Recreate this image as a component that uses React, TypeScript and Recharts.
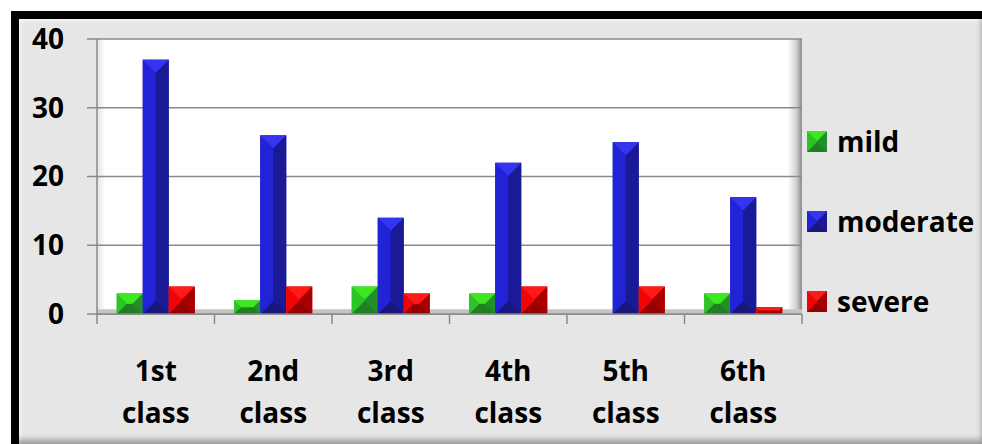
import React from 'react';
import { BarChart, Bar, XAxis, YAxis, CartesianGrid, Legend, ReferenceArea } from 'recharts';

const categories = ['1st class', '2nd class', '3rd class', '4th class', '5th class', '6th class'];
const mild = [3, 2, 4, 3, 0, 3];
const moderate = [37, 26, 14, 22, 25, 17];
const severe = [4, 4, 3, 4, 4, 1];
const yTicks = [0, 10, 20, 30, 40];

const seriesNames = ['mild', 'moderate', 'severe'];

const palette: Record<string, { top: string; left: string; right: string; bottom: string; mid: string }> = {
  mild: { top: '#3de81e', left: '#2cc426', right: '#22902a', bottom: '#1f7f22', mid: '#27a827' },
  moderate: { top: '#3535f0', left: '#2222d6', right: '#1a1a96', bottom: '#17177e', mid: '#2020c0' },
  severe: { top: '#ff1a1a', left: '#ee0505', right: '#a80000', bottom: '#960000', mid: '#d00000' },
};

const data = categories.map((c, i) => ({
  name: c,
  mild: mild[i],
  moderate: moderate[i],
  severe: severe[i],
}));

const FONT = "'Open Sans', sans-serif";

function bevel(x: number, y: number, w: number, h: number, key: string) {
  const c = palette[key];
  const d = Math.min(13, w / 2, h / 2);
  const p = (pts: number[][]) => pts.map((q) => q.join(',')).join(' ');
  return (
    <g>
      <rect x={x} y={y} width={w} height={h} fill={c.mid} />
      <polygon points={p([[x, y], [x + d, y + d], [x + d, y + h - d], [x, y + h]])} fill={c.left} />
      <polygon points={p([[x + w, y], [x + w, y + h], [x + w - d, y + h - d], [x + w - d, y + d]])} fill={c.right} />
      <polygon points={p([[x, y + h], [x + w, y + h], [x + w - d, y + h - d], [x + d, y + h - d]])} fill={c.bottom} />
      <polygon points={p([[x, y], [x + w, y], [x + w - d, y + d], [x + d, y + d]])} fill={c.top} />
    </g>
  );
}

const makeShape = (key: string) => (props: any) => {
  const { x, y, width, height } = props;
  if (!height || height <= 0) return <g />;
  return bevel(x, y, width, height, key);
};

const XTick = (props: any) => {
  const { x, y, payload, index } = props;
  const off = payload && typeof payload.offset === 'number' ? payload.offset : 58.75;
  const parts = String(payload.value).split(' ');
  return (
    <g>
      <line x1={x - off} x2={x - off} y1={y} y2={y + 10} stroke="#888" strokeWidth={1.5} />
      {index === categories.length - 1 && (
        <line x1={x + off} x2={x + off} y1={y} y2={y + 10} stroke="#888" strokeWidth={1.5} />
      )}
      <text x={x} y={y + 67} textAnchor="middle" fontFamily={FONT} fontWeight={700} fontSize={28} fill="#000">
        {parts[0]}
      </text>
      <text x={x} y={y + 109} textAnchor="middle" fontFamily={FONT} fontWeight={700} fontSize={28} fill="#000">
        {parts[1]}
      </text>
    </g>
  );
};

const LegendContent = () => (
  <div style={{ fontFamily: FONT, fontWeight: 700, fontSize: 28, color: '#000' }}>
    {seriesNames.map((n) => (
      <div key={n} style={{ display: 'flex', alignItems: 'center', height: 80 }}>
        <svg width={20} height={21} style={{ marginRight: 10 }}>
          {bevel(0, 0, 20, 21, n)}
        </svg>
        <span style={{ lineHeight: '28px' }}>{n}</span>
      </div>
    ))}
  </div>
);

export default function App() {
  return (
    <div style={{ position: 'absolute', left: 0, top: 0, width: 982, height: 444, background: '#fff' }}>
      <div
        style={{
          position: 'absolute',
          left: 11,
          top: 11,
          width: 971,
          height: 433,
          boxSizing: 'border-box',
          borderTop: '8px solid #000',
          borderLeft: '8px solid #000',
          background: '#e6e6e6',
          boxShadow: 'inset -3px -7px 6px -3px rgba(0,0,0,0.35), inset 4px 4px 5px -3px rgba(255,255,255,0.9)',
        }}
      />
      <div style={{ position: 'absolute', left: 0, top: 0 }}>
        <BarChart
          width={982}
          height={444}
          data={data}
          margin={{ top: 39, right: 5, bottom: 40, left: 37 }}
          barCategoryGap="16.8%"
          barGap={0}
        >
          <defs>
            <linearGradient id="wallGrad" x1="0" y1="0" x2="1" y2="0">
              <stop offset="0%" stopColor="#e4e4e4" />
              <stop offset="1.2%" stopColor="#ffffff" />
              <stop offset="98%" stopColor="#ffffff" />
              <stop offset="99.2%" stopColor="#d0d0d0" />
              <stop offset="100%" stopColor="#8a8a8a" />
            </linearGradient>
          </defs>
          <CartesianGrid vertical={false} stroke="#8a8a8a" strokeWidth={1.5} fill="url(#wallGrad)" fillOpacity={1} />
          <ReferenceArea y1={0} y2={0.7} fill="#c4c4c4" fillOpacity={1} stroke="none" ifOverflow="visible" />
          <XAxis
            dataKey="name"
            height={90}
            tickSize={0}
            tickMargin={0}
            tickLine={false}
            axisLine={{ stroke: '#888', strokeWidth: 1.5 }}
            tick={<XTick />}
            interval={0}
          />
          <YAxis
            width={60}
            domain={[0, 40]}
            ticks={yTicks}
            tickSize={10}
            tickMargin={23}
            axisLine={{ stroke: '#888', strokeWidth: 1.5 }}
            tickLine={{ stroke: '#888', strokeWidth: 1.5 }}
            tick={{ fontFamily: FONT, fontWeight: 700, fontSize: 28, fill: '#000' }}
          />
          <YAxis
            yAxisId="wall"
            orientation="right"
            width={0}
            tick={false}
            tickLine={false}
            axisLine={{ stroke: '#888', strokeWidth: 1.5 }}
          />
          <Legend
            layout="vertical"
            align="right"
            verticalAlign="top"
            content={<LegendContent />}
            wrapperStyle={{ left: 807, top: 101, width: 175 }}
          />
          {seriesNames.map((n) => (
            <Bar key={n} dataKey={n} name={n} fill={palette[n].mid} shape={makeShape(n)} isAnimationActive={false} />
          ))}
        </BarChart>
      </div>
    </div>
  );
}
